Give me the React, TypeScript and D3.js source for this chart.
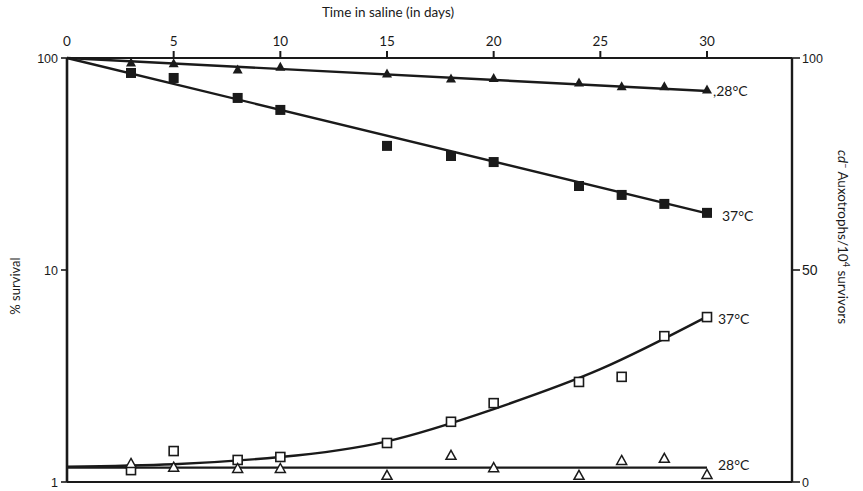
import React from "react";
import * as d3 from "d3";

// Days sampled in saline
const days = [3, 5, 8, 10, 15, 18, 20, 24, 26, 28, 30];

// % survival (log scale, left axis)
const survival28 = [95.7, 95, 88.7, 91.5, 85, 80.5, 81, 77, 74, 74, 71.4];
const survival37 = [85, 80.5, 64.8, 56.9, 38.5, 34.5, 32.3, 24.9, 22.6, 20.5, 18.6];

// cd- auxotrophs per 10^4 survivors (linear, right axis)
const auxo37 = [2.8, 7.3, 5.2, 5.9, 9.2, 14.2, 18.6, 23.6, 24.8, 34.4, 38.9];
const auxo28 = [4.5, 3.6, 3.3, 3.3, 1.7, 6.4, 3.5, 1.7, 5.2, 5.7, 1.9];

// Fitted curves
const fitSurv28Days = [0, 30];
const fitSurv28 = [100, 69.9];
const fitSurv37Days = [0, 30];
const fitSurv37 = [100, 18.5];
const fitAuxo37Days = [0, 5, 10, 15, 20, 25, 30];
const fitAuxo37 = [3.6, 4.2, 5.9, 9.6, 17.2, 26.6, 39];
const fitAuxo28Days = [0, 30];
const fitAuxo28 = [3.4, 3.4];

const topTicks = [0, 5, 10, 15, 20, 25, 30];
const leftTicks = [1, 10, 100];
const rightTicks = [0, 50, 100];

const W = 863;
const H = 491;
const X0 = 67;
const XR = 792;
const YT = 58;
const YB = 482;

const x = d3.scaleLinear().domain([0, 30]).range([X0, 707]);
const yLog = d3.scaleLog().domain([1, 100]).range([YB, YT]);
const yLin = d3.scaleLinear().domain([0, 100]).range([YB, YT]);

const ink = "#1a1a1a";
const labelFont = "Lato, 'Open Sans', sans-serif";
const numFont = "'Liberation Sans', Arial, sans-serif";

function triangle(cx: number, cy: number, s: number) {
  const h = s * 0.9;
  return `M${cx},${cy - h / 2} L${cx + s / 2},${cy + h / 2} L${cx - s / 2},${cy + h / 2} Z`;
}

export default function App() {
  const lineLog = d3
    .line<[number, number]>()
    .x((d) => x(d[0]))
    .y((d) => yLog(d[1]));
  const lineLin = d3
    .line<[number, number]>()
    .x((d) => x(d[0]))
    .y((d) => yLin(d[1]))
    .curve(d3.curveNatural);

  const zip = (a: number[], b: number[]) => a.map((v, i) => [v, b[i]] as [number, number]);

  return (
    <svg
      width={W}
      height={H}
      style={{ position: "absolute", left: 0, top: 0, background: "#fff" }}
    >
      {/* frame */}
      <line x1={X0} x2={XR} y1={YT} y2={YT} stroke={ink} strokeWidth={2.2} />
      <line x1={X0} x2={XR} y1={YB} y2={YB} stroke={ink} strokeWidth={2.2} />
      <line x1={X0} x2={X0} y1={YT} y2={YB} stroke={ink} strokeWidth={2.6} />
      <line x1={XR} x2={XR} y1={YT} y2={YB} stroke={ink} strokeWidth={2.4} />

      {/* top axis */}
      {topTicks.map((t) => (
        <g key={`tt${t}`}>
          {t > 0 && (
            <line x1={x(t)} x2={x(t)} y1={YT} y2={YT - 7} stroke={ink} strokeWidth={2} />
          )}
          <text
            x={x(t)}
            y={YT - 12}
            textAnchor="middle"
            fontFamily={labelFont}
            fontSize={13.5}
            fill={ink}
          >
            {t}
          </text>
        </g>
      ))}
      <text
        x={388}
        y={17}
        textAnchor="middle"
        fontFamily={labelFont}
        fontSize={13.5}
        fill={ink}
      >
        Time in saline (in days)
      </text>

      {/* left axis */}
      {leftTicks.map((t) => (
        <g key={`lt${t}`}>
          <line x1={X0 - 6} x2={X0} y1={yLog(t)} y2={yLog(t)} stroke={ink} strokeWidth={1.6} />
          <text
            x={X0 - 9}
            y={yLog(t) + 4.5}
            textAnchor="end"
            fontFamily={numFont}
            fontSize={12.5}
            fill={ink}
          >
            {t}
          </text>
        </g>
      ))}
      <text
        transform={`translate(20,286) rotate(-90)`}
        textAnchor="middle"
        fontFamily={labelFont}
        fontSize={13}
        fill={ink}
      >
        % survival
      </text>

      {/* right axis */}
      {rightTicks.map((t) => (
        <g key={`rt${t}`}>
          <line x1={XR} x2={XR + 8} y1={yLin(t)} y2={yLin(t)} stroke={ink} strokeWidth={1.6} />
          <text
            x={XR + 10}
            y={yLin(t) + 5}
            textAnchor="start"
            fontFamily={numFont}
            fontSize={t === 50 ? 14 : 12.5}
            fill={ink}
          >
            {t}
          </text>
        </g>
      ))}
      <text
        transform={`translate(838,237) rotate(90)`}
        textAnchor="middle"
        fontFamily={labelFont}
        fontSize={13.5}
        fill={ink}
      >
        <tspan fontStyle="italic">cd</tspan>
        <tspan dy={-4} fontSize={9}>
          −
        </tspan>
        <tspan dy={4}>{"  Auxotrophs/10"}</tspan>
        <tspan dy={-5} fontSize={9}>
          4
        </tspan>
        <tspan dy={5}>{" survivors"}</tspan>
      </text>

      {/* fitted lines */}
      <path
        d={lineLog(zip(fitSurv28Days, fitSurv28)) || ""}
        fill="none"
        stroke={ink}
        strokeWidth={2.4}
      />
      <path
        d={lineLog(zip(fitSurv37Days, fitSurv37)) || ""}
        fill="none"
        stroke={ink}
        strokeWidth={2.4}
      />
      <path
        d={lineLin(zip(fitAuxo37Days, fitAuxo37)) || ""}
        fill="none"
        stroke={ink}
        strokeWidth={2.4}
      />
      <path
        d={lineLin(zip(fitAuxo28Days, fitAuxo28)) || ""}
        fill="none"
        stroke={ink}
        strokeWidth={2.2}
      />

      {/* survival at 28 °C: filled triangles */}
      {days.map((d, i) => (
        <path key={`s28${d}`} d={triangle(x(d), yLog(survival28[i]), 10)} fill={ink} />
      ))}
      {/* survival at 37 °C: filled squares */}
      {days.map((d, i) => (
        <rect
          key={`s37${d}`}
          x={x(d) - 5}
          y={yLog(survival37[i]) - 5}
          width={10}
          height={10}
          fill={ink}
        />
      ))}
      {/* auxotrophs at 37 °C: open squares */}
      {days.map((d, i) => (
        <rect
          key={`a37${d}`}
          x={x(d) - 4.5}
          y={yLin(auxo37[i]) - 4.5}
          width={9}
          height={9}
          fill="#fff"
          stroke={ink}
          strokeWidth={1.6}
        />
      ))}
      {/* auxotrophs at 28 °C: open triangles */}
      {days.map((d, i) => (
        <path
          key={`a28${d}`}
          d={triangle(x(d), yLin(auxo28[i]), 10)}
          fill="#fff"
          stroke={ink}
          strokeWidth={1.5}
        />
      ))}

      {/* series labels */}
      <text x={713} y={96} fontFamily={labelFont} fontSize={14} fill={ink}>
        ,28°C
      </text>
      <text x={722} y={221} fontFamily={labelFont} fontSize={14} fill={ink}>
        37°C
      </text>
      <text x={718} y={324} fontFamily={labelFont} fontSize={14} fill={ink}>
        37°C
      </text>
      <text x={718} y={470} fontFamily={labelFont} fontSize={14} fill={ink}>
        28°C
      </text>
    </svg>
  );
}
